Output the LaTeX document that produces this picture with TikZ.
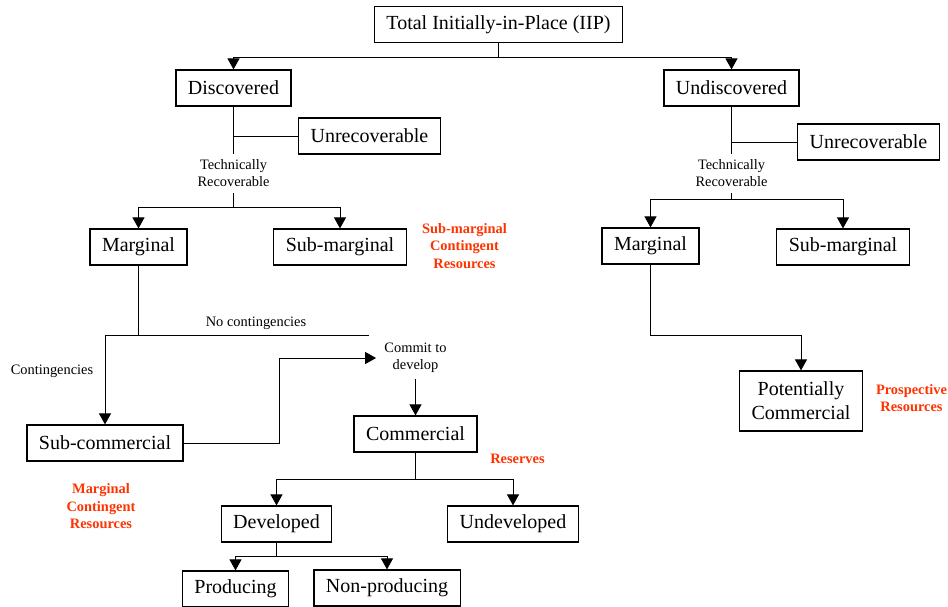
\documentclass[tikz,border=0pt]{standalone}
\usepackage{fontspec}
\setmainfont{Liberation Serif}
\usepackage{xcolor}
\usetikzlibrary{arrows.meta, calc}
\definecolor{resred}{RGB}{255,51,0}
\tikzset{resbox/.style={draw=black, line width=0.6pt, inner xsep=6pt, minimum height=18pt, align=center, font=\fontsize{10}{12}\selectfont}}
\tikzset{note/.style={inner xsep=4pt, inner ysep=3pt, align=center, font=\fontsize{7.2}{8.5}\selectfont}}
\tikzset{redlabel/.style={inner sep=1pt, align=center, text=resred, font=\fontsize{7.2}{8.75}\selectfont\bfseries}}
\tikzset{link/.style={line width=0.5pt}, arr/.style={-{Triangle[length=5.5pt, width=6pt]}}}

\begin{document}
\begin{tikzpicture}[x=0.5pt, y=-0.5pt]
                                \clip (0, 0) rectangle (948, 606);
                                \node[resbox] (iip) at (498.5, 24.5) {Total Initially-in-Place (IIP)};
                                \node[resbox] (disc) at (233.5, 88) {Discovered};
                                \node[resbox] (undisc) at (731.5, 88) {Undiscovered};
                                \node[resbox] (unrecA) at (369.5, 136) {Unrecoverable};
                                \node[resbox] (unrecB) at (868.5, 142) {Unrecoverable};
                                \node[note] (trA) at (233.5, 173.5) {Technically\\Recoverable};
                                \node[note] (trB) at (731.5, 173.5) {Technically\\Recoverable};
                                \node[resbox] (margA) at (138.5, 247) {Marginal};
                                \node[resbox] (submA) at (340, 247) {Sub-marginal};
                                \node[resbox] (margB) at (650.5, 246) {Marginal};
                                \node[resbox] (submB) at (843, 247) {Sub-marginal};
                                \node[resbox, minimum height=30pt] (potc) at (801, 401) {Potentially\\Commercial};
                                \node[resbox] (subcom) at (105, 443) {Sub-commercial};
                                \node[note] (commit) at (415.5, 358) {Commit to\\develop};
                                \node[resbox] (comm) at (415.5, 434) {Commercial};
                                \node[resbox] (dev) at (276.5, 524) {Developed};
                                \node[resbox] (undev) at (513, 524) {Undeveloped};
                                \node[resbox] (prod) at (235.5, 589) {Producing};
                                \node[resbox] (nonprod) at (387, 588) {Non-producing};
                                \node[note] (nocont) at (256, 323) {No contingencies};
                                \node[note] (cont) at (52, 371) {Contingencies};
                                \node[redlabel] (smcr) at (464.5, 246) {Sub-marginal\\Contingent\\Resources};
                                \node[redlabel] (mcr) at (101, 506.5) {Marginal\\Contingent\\Resources};
                                \node[redlabel] (pros) at (911.5, 398) {Prospective\\Resources};
                                \node[redlabel] (resv) at (517.5, 459) {Reserves};
                                \draw[link] (iip.south) -- ++(0, 14) coordinate (jtop);
                                \draw[link, arr] (jtop) -| (disc.north);
                                \draw[link, arr] (jtop) -| (undisc.north);
                                \draw[link] (disc.south) -- (disc.south |- trA.north);
                                \draw[link] (disc.south |- unrecA.west) -- (unrecA.west);
                                \draw[link] (trA.south) -- ++(0, 14) coordinate (jA);
                                \draw[link, arr] (jA) -| (margA.north);
                                \draw[link, arr] (jA) -| (submA.north);
                                \draw[link] (undisc.south) -- (undisc.south |- trB.north);
                                \draw[link] (undisc.south |- unrecB.west) -- (unrecB.west);
                                \draw[link] (trB.south) -- ++(0, 6) coordinate (jB);
                                \draw[link, arr] (jB) -| (margB.north);
                                \draw[link, arr] (jB) -| (submB.north);
                                \draw[link, arr] (margB.south) -- ++(0, 71) -| (potc.north);
                                \coordinate (ncend) at (369, 335);
                                \draw[link] (margA.south) -- (margA.south |- ncend);
                                \draw[link] (subcom.north |- ncend) -- (ncend);
                                \draw[link, arr] (subcom.north |- ncend) -- (subcom.north);
                                \draw[link, arr] (subcom.east) -- ++(96, 0) |- (commit.west);
                                \draw[link, arr] (commit.south) -- (comm.north);
                                \draw[link] (comm.south) -- ++(0, 27) coordinate (jC);
                                \draw[link, arr] (jC) -| (dev.north);
                                \draw[link, arr] (jC) -| (undev.north);
                                \draw[link] (dev.south) -- ++(0, 14) coordinate (jD);
                                \draw[link, arr] (jD) -| (prod.north);
                                \draw[link, arr] (jD) -| (nonprod.north);
                            \end{tikzpicture}
\end{document}
